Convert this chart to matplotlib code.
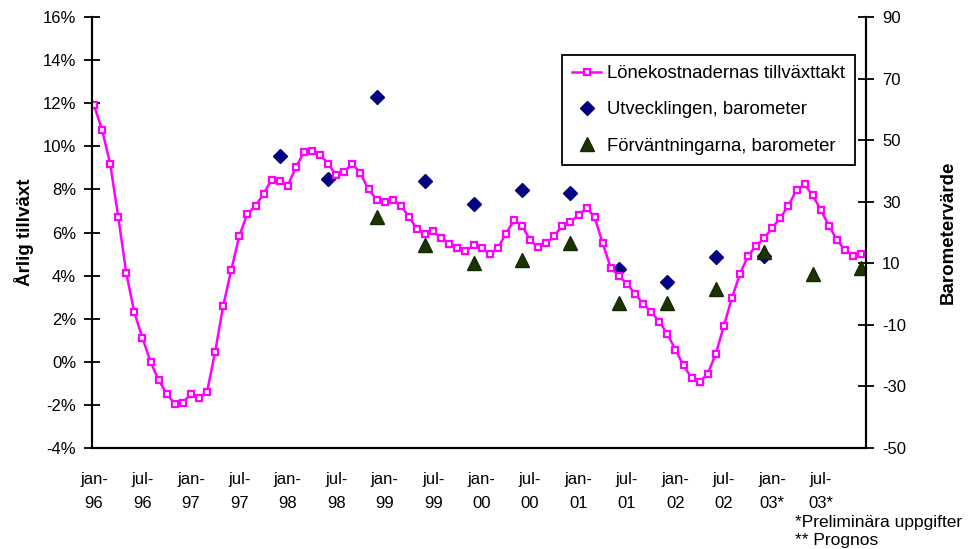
import numpy as np
import matplotlib
matplotlib.use("Agg")
import matplotlib.pyplot as plt

plt.rcParams['font.family'] = ['Liberation Sans', 'DejaVu Sans']
plt.rcParams['axes.unicode_minus'] = False

# lönekostnadernas tillväxttakt, % per månad jan-96 .. dec-03
lonekostnad = [11.9, 10.77, 9.19, 6.73, 4.10, 2.29, 1.10, 0.0, -0.84, -1.49, -1.95, -1.90,
               -1.49, -1.67, -1.39, 0.47, 2.6, 4.27, 5.85, 6.87, 7.24, 7.80, 8.45, 8.37,
               8.18, 9.02, 9.74, 9.76, 9.59, 9.20, 8.65, 8.82, 9.20, 8.74, 8.0, 7.53,
               7.42, 7.53, 7.24, 6.74, 6.14, 5.95, 6.05, 5.75, 5.48, 5.27, 5.12, 5.40,
               5.26, 5.01, 5.26, 5.95, 6.56, 6.32, 5.66, 5.31, 5.49, 5.85, 6.32, 6.51,
               6.79, 7.15, 6.70, 5.49, 4.36, 3.99, 3.62, 3.16, 2.69, 2.32, 1.86, 1.30,
               0.56, -0.17, -0.74, -0.93, -0.56, 0.37, 1.67, 2.97, 4.08, 4.92, 5.38, 5.74,
               6.22, 6.68, 7.25, 7.98, 8.23, 7.72, 7.05, 6.32, 5.66, 5.18, 4.92, 5.01]

# barometervärden (höger axel), månadsindex från jan-96
utv_idx = [23, 29, 35, 41, 47, 53, 59, 65, 71, 77, 83]
utv_val = [44.7, 37.4, 64.0, 36.6, 29.4, 33.7, 32.9, 8.1, 3.9, 11.9, 12.4]

forv_idx = [35, 41, 47, 53, 59, 65, 71, 77, 83, 89, 95]
forv_val = [25.0, 15.8, 10.0, 11.0, 16.6, -2.9, -2.9, 1.6, 13.8, 6.6, 8.6]

x_labels = ['jan-\n96', 'jul-\n96', 'jan-\n97', 'jul-\n97', 'jan-\n98', 'jul-\n98',
            'jan-\n99', 'jul-\n99', 'jan-\n00', 'jul-\n00', 'jan-\n01', 'jul-\n01',
            'jan-\n02', 'jul-\n02', 'jan-\n03*', 'jul-\n03*']

fig = plt.figure(figsize=(9.72, 5.49), dpi=100)
ax = fig.add_axes([92 / 972, 1 - 448 / 549, 774 / 972, 431 / 549])
ax2 = ax.twinx()

x = np.arange(len(lonekostnad))
ln, = ax.plot(x, lonekostnad, color='#FF00FF', lw=1.8, marker='s', ms=4,
              mfc='white', mec='#FF00FF', mew=1.6, label='Lönekostnadernas tillväxttakt')
d, = ax2.plot(utv_idx, utv_val, ls='none', marker='D', ms=7, color='#000080',
              label='Utvecklingen, barometer')
t, = ax2.plot(forv_idx, forv_val, ls='none', marker='^', ms=9.5, color='#1f3300',
              mec='#0f2a00', label='Förväntningarna, barometer')

ax.set_xlim(-0.25, 95.6)
ax.set_ylim(-4, 16)
ax2.set_ylim(-50, 90)
ax.set_yticks(range(-4, 17, 2))
ax.set_yticklabels([f'{v}%' for v in range(-4, 17, 2)])
ax2.set_yticks(range(-50, 91, 20))

ax.set_xticks(range(0, 96, 6))
ax.set_xticklabels(x_labels, linespacing=1.75)
ax.tick_params(axis='x', length=0, pad=17, labelsize=12)
ax.tick_params(axis='y', direction='inout', length=11, width=1.3, labelsize=12, pad=6)
ax2.tick_params(axis='y', direction='inout', length=11, width=1.3, labelsize=12, pad=6)

for a in (ax, ax2):
    a.spines['top'].set_visible(False)
    for s in ('left', 'right', 'bottom'):
        a.spines[s].set_linewidth(1.5)

ax.set_ylabel('Årlig tillväxt', fontsize=13.5, fontweight='bold', labelpad=6)
ax2.set_ylabel('Barometervärde', fontsize=13.5, fontweight='bold', labelpad=24)

leg = ax.legend(handles=[ln, d, t], loc='upper right', bbox_to_anchor=(0.986, 0.912),
                borderaxespad=0, fontsize=13.3, labelspacing=1.05, handlelength=1.6,
                handletextpad=0.3, fancybox=False, framealpha=1, edgecolor='black',
                borderpad=0.55)
leg.get_frame().set_linewidth(1.3)
leg.set_zorder(5)
ax.set_zorder(ax2.get_zorder() + 1)
ax.patch.set_visible(False)

fig.text(795 / 972, 1 - 522 / 549, '*Preliminära uppgifter', fontsize=12.5, va='center')
fig.text(795 / 972, 1 - 541 / 549, '** Prognos', fontsize=12.5, va='center')

fig.savefig('out.png', dpi=100)
